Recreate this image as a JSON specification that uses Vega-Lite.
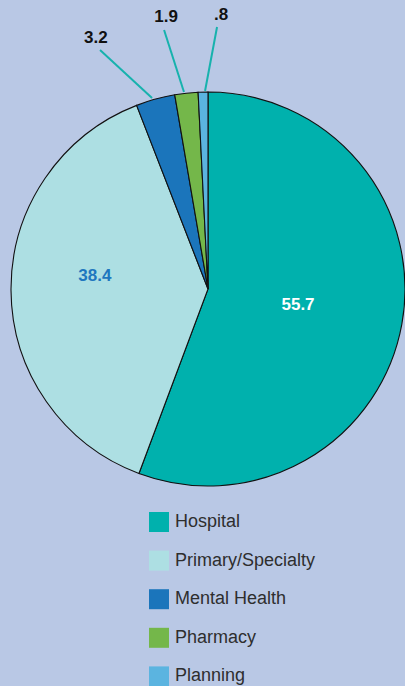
{
  "$schema": "https://vega.github.io/schema/vega-lite/v6.json",
  "autosize": {"type": "none"},
  "width": 416,
  "height": 578,
  "padding": {"left": 0, "top": 0, "right": -11, "bottom": 108},
  "background": "#b9c8e5",
  "config": {
    "view": {"stroke": null},
    "font": "Liberation Sans",
    "legend": {
      "orient": "none",
      "legendX": 149,
      "legendY": 512,
      "padding": 0,
      "symbolType": "square",
      "symbolSize": 400,
      "symbolStrokeWidth": 0,
      "symbolOpacity": 1,
      "labelFontSize": 18,
      "labelFont": "Liberation Sans",
      "labelColor": "#2e2e2e",
      "labelOffset": 6,
      "rowPadding": 18.6,
      "labelLimit": 300
    }
  },
  "datasets": {
    "slices": [
      {"category": "Hospital", "value": 55.7},
      {"category": "Primary/Specialty", "value": 38.4},
      {"category": "Mental Health", "value": 3.2},
      {"category": "Pharmacy", "value": 1.9},
      {"category": "Planning", "value": 0.8}
    ],
    "leaders": [
      {"category": "Mental Health", "x1": -0.284, "y1": 0.97, "x2": -0.548, "y2": 1.213},
      {"category": "Pharmacy", "x1": -0.122, "y1": 1.0, "x2": -0.223, "y2": 1.315},
      {"category": "Planning", "x1": -0.015, "y1": 1.005, "x2": 0.046, "y2": 1.33}
    ],
    "labels": [
      {"category": "Hospital", "label": "55.7", "x": 0.457, "y": -0.081, "group": "inner-light"},
      {"category": "Primary/Specialty", "label": "38.4", "x": -0.574, "y": 0.066, "group": "inner-dark"},
      {"category": "Mental Health", "label": "3.2", "x": -0.569, "y": 1.274, "group": "outer"},
      {"category": "Pharmacy", "label": "1.9", "x": -0.213, "y": 1.381, "group": "outer"},
      {"category": "Planning", "label": ".8", "x": 0.066, "y": 1.391, "group": "outer"}
    ]
  },
  "layer": [
    {
      "data": {"name": "slices"},
      "mark": {"type": "arc", "outerRadius": 197, "stroke": "#111111", "strokeWidth": 1.1},
      "encoding": {
        "theta": {"field": "value", "type": "quantitative", "stack": true},
        "order": {"field": "value", "type": "quantitative", "sort": "descending"},
        "color": {
          "field": "category",
          "type": "nominal",
          "sort": ["Hospital", "Primary/Specialty", "Mental Health", "Pharmacy", "Planning"],
          "scale": {
            "domain": ["Hospital", "Primary/Specialty", "Mental Health", "Pharmacy", "Planning"],
            "range": ["#00b1ad", "#addfe3", "#1b75bb", "#74b74a", "#5bb4e0"]
          },
          "legend": {"title": null}
        }
      }
    },
    {
      "data": {"name": "leaders"},
      "mark": {"type": "rule", "color": "#17b2ad", "strokeWidth": 2},
      "encoding": {
        "x": {"field": "x1", "type": "quantitative", "scale": {"domain": [-1.0558, 1.0558], "nice": false, "zero": false}, "axis": null},
        "y": {"field": "y1", "type": "quantitative", "scale": {"domain": [-1.467, 1.467], "nice": false, "zero": false}, "axis": null},
        "x2": {"field": "x2"},
        "y2": {"field": "y2"}
      }
    },
    {
      "data": {"name": "labels"},
      "transform": [{"filter": "datum.group == 'inner-light'"}],
      "mark": {"type": "text", "fontSize": 17, "fontWeight": "bold", "color": "#ffffff", "align": "center", "baseline": "middle"},
      "encoding": {
        "x": {"field": "x", "type": "quantitative", "scale": {"domain": [-1.0558, 1.0558], "nice": false, "zero": false}, "axis": null},
        "y": {"field": "y", "type": "quantitative", "scale": {"domain": [-1.467, 1.467], "nice": false, "zero": false}, "axis": null},
        "text": {"field": "label"}
      }
    },
    {
      "data": {"name": "labels"},
      "transform": [{"filter": "datum.group == 'inner-dark'"}],
      "mark": {"type": "text", "fontSize": 17, "fontWeight": "bold", "color": "#1f77bf", "align": "center", "baseline": "middle"},
      "encoding": {
        "x": {"field": "x", "type": "quantitative", "scale": {"domain": [-1.0558, 1.0558], "nice": false, "zero": false}, "axis": null},
        "y": {"field": "y", "type": "quantitative", "scale": {"domain": [-1.467, 1.467], "nice": false, "zero": false}, "axis": null},
        "text": {"field": "label"}
      }
    },
    {
      "data": {"name": "labels"},
      "transform": [{"filter": "datum.group == 'outer'"}],
      "mark": {"type": "text", "fontSize": 17, "fontWeight": "bold", "color": "#111111", "align": "center", "baseline": "middle"},
      "encoding": {
        "x": {"field": "x", "type": "quantitative", "scale": {"domain": [-1.0558, 1.0558], "nice": false, "zero": false}, "axis": null},
        "y": {"field": "y", "type": "quantitative", "scale": {"domain": [-1.467, 1.467], "nice": false, "zero": false}, "axis": null},
        "text": {"field": "label"}
      }
    }
  ]
}
